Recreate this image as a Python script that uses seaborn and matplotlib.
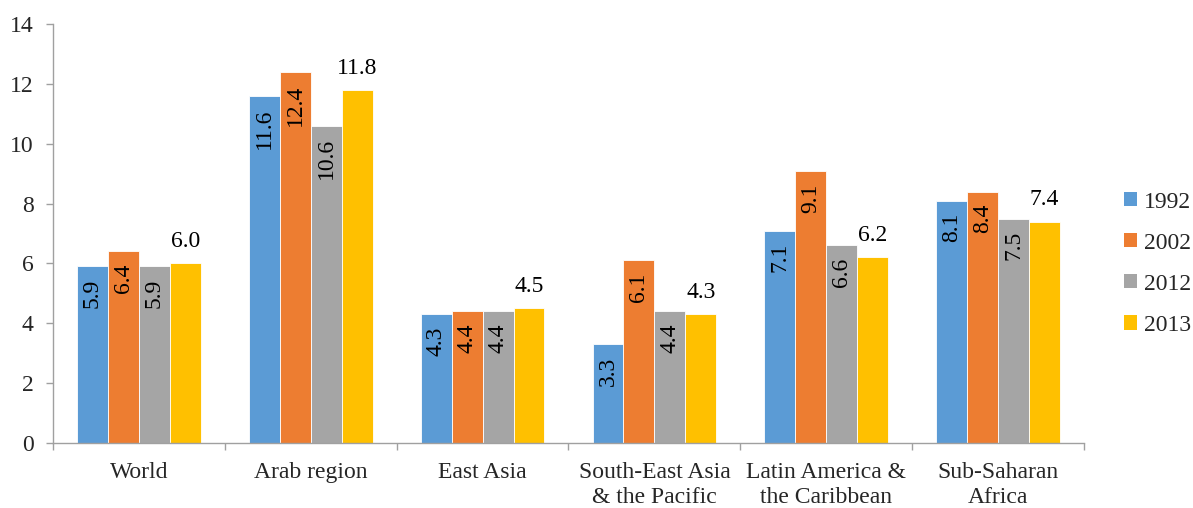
import matplotlib
matplotlib.use("Agg")
import matplotlib.pyplot as plt
from matplotlib.patches import Patch
import seaborn as sns
import pandas as pd
import numpy as np

categories = ["World", "Arab region", "East Asia", "South-East Asia\n& the Pacific",
              "Latin America &\nthe Caribbean", "Sub-Saharan\nAfrica"]
years = ["1992", "2002", "2012", "2013"]
v1992 = [5.9, 11.6, 4.3, 3.3, 7.1, 8.1]
v2002 = [6.4, 12.4, 4.4, 6.1, 9.1, 8.4]
v2012 = [5.9, 10.6, 4.4, 4.4, 6.6, 7.5]
v2013 = [6.0, 11.8, 4.5, 4.3, 6.2, 7.4]
colors = ["#5B9BD5", "#ED7D31", "#A5A5A5", "#FFC000"]

series = [v1992, v2002, v2012, v2013]
rows = []
for y, vals in zip(years, series):
    for c, v in zip(categories, vals):
        rows.append({"category": c, "year": y, "value": v})
df = pd.DataFrame(rows)

sns.set_style("white")
plt.rcParams['font.family'] = ['Liberation Serif', 'DejaVu Serif']
FS = 17

fig = plt.figure(figsize=(11.93, 5.08), dpi=100)
ax = fig.add_axes([53/1193, 65/508, (1084-53)/1193, (443-24)/508])

sns.barplot(data=df, x="category", y="value", hue="year", order=categories,
            hue_order=years, palette=colors, width=0.72, saturation=1,
            edgecolor="white", linewidth=0.6, ax=ax, legend=False)

ax.set_ylim(0, 14)
ax.set_yticks(np.arange(0, 15, 2))
ax.set_xlim(-0.5, len(categories) - 0.5)
ax.set_xlabel("")
ax.set_ylabel("")

for i, cont in enumerate(ax.containers):
    for bar, v in zip(cont, series[i]):
        x = bar.get_x() + bar.get_width() / 2
        h = bar.get_height()
        if i < 3:
            ax.annotate(f"{v:.1f}", (x, h), xytext=(0, -9), textcoords="offset points",
                        rotation=90, ha="center", va="top", fontsize=FS, color="black")
        else:
            ax.annotate(f"{v:.1f}", (x, h), xytext=(0, 8), textcoords="offset points",
                        ha="center", va="bottom", fontsize=FS, color="black")

for s in ["top", "right"]:
    ax.spines[s].set_visible(False)
for s in ["left", "bottom"]:
    ax.spines[s].set_color("#A0A0A0")
    ax.spines[s].set_linewidth(1.0)

ax.tick_params(axis="y", which="major", length=5, width=1, color="#A0A0A0",
               direction="out", left=True, pad=9, labelsize=FS)
ax.tick_params(axis="x", which="major", length=0, pad=14, labelsize=FS)
ax.set_xticks(np.arange(-0.5, len(categories), 1.0), minor=True)
ax.tick_params(axis="x", which="minor", length=5, width=1, color="#A0A0A0",
               direction="out", bottom=True)
for lab in ax.get_xticklabels():
    lab.set_linespacing(1.25)

handles = [Patch(facecolor=c, edgecolor="none", label=y) for c, y in zip(colors, years)]
fig.legend(handles=handles, loc="center left", bbox_to_anchor=(1124/1193, 0.481),
           frameon=False, fontsize=FS, handlelength=0.55, handleheight=0.55,
           handletextpad=0.3, labelspacing=0.85, borderpad=0, borderaxespad=0)

fig.savefig("out.png", dpi=100)
